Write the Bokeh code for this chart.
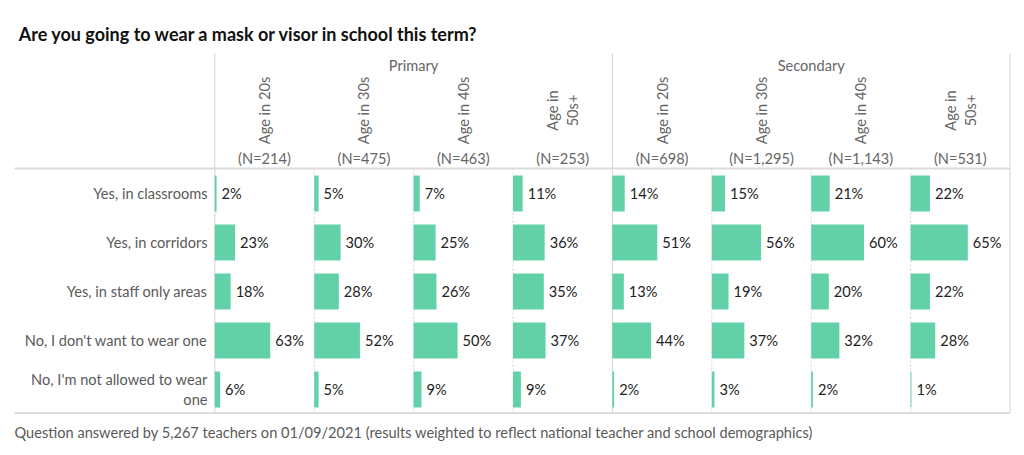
import math
from bokeh.plotting import figure
from bokeh.models import ColumnDataSource, Range1d
from bokeh.core.properties import value
from bokeh.embed import file_html
from bokeh.resources import INLINE

# ---------------- data ----------------
title_text = "Are you going to wear a mask or visor in school this term?"
footer_text = ("Question answered by 5,267  teachers on 01/09/2021 "
               "(results weighted to reflect national teacher and school demographics)")
categories = ["Yes, in classrooms", "Yes, in corridors", "Yes, in staff only areas",
              "No, I don't want to wear one", "No, I'm not allowed to wear\none"]
groups = ["Primary", "Secondary"]
age_labels = ["Age in 20s", "Age in 30s", "Age in 40s", "Age in\n50s+"]
n_labels = ["(N=214)", "(N=475)", "(N=463)", "(N=253)",
            "(N=698)", "(N=1,295)", "(N=1,143)", "(N=531)"]
primary_20s = [2, 23, 18, 63, 6]
primary_30s = [5, 30, 28, 52, 5]
primary_40s = [7, 25, 26, 50, 9]
primary_50s = [11, 36, 35, 37, 9]
secondary_20s = [14, 51, 13, 44, 2]
secondary_30s = [15, 56, 19, 37, 3]
secondary_40s = [21, 60, 20, 32, 2]
secondary_50s = [22, 65, 22, 28, 1]
columns = [primary_20s, primary_30s, primary_40s, primary_50s,
           secondary_20s, secondary_30s, secondary_40s, secondary_50s]

# ---------------- layout ----------------
W, H = 1016, 447
OFF = 0             # page offset of the canvas
K = 0.88            # px per percentage point
PITCH_PX = 99.4     # panel width in px
ORIGIN_PX = 214.3   # page x of first panel start
ROW_PX = 49.0
ROW0_PX = 193.0     # page y of first row centre
PW = PITCH_PX / K   # panel width in data units

def px2x(px):
    return (px - ORIGIN_PX) / K

def px2y(py):
    return (py - ROW0_PX) / ROW_PX

x_start = px2x(OFF)
x_end = px2x(OFF + W)
y_bottom = px2y(OFF + H)
y_top = px2y(OFF)

FONT = value("Lato")
BAR = "#63D1A8"
GRID = "#d4d4d4"
FS = "14.6px"

p = figure(width=W, height=H, x_range=Range1d(x_start, x_end),
           y_range=Range1d(y_bottom, y_top), x_axis_type=None, y_axis_type=None,
           toolbar_location=None, output_backend="svg", min_border=0,
           outline_line_color=None, background_fill_color="white",
           border_fill_color="white")
p.grid.visible = False

# grid lines
top_y = px2y(52.7)
head_y = px2y(168)
bot_y = px2y(412.5)
left_x = px2x(14)
n_cols = len(columns)
bounds = [i * PW for i in range(n_cols + 1)]
solid = [bounds[0], bounds[4], bounds[8]]
dotted = [b for i, b in enumerate(bounds) if i not in (0, 4, 8)]
p.segment(x0=[left_x, left_x], x1=[bounds[-1], bounds[-1]], y0=[head_y, bot_y],
          y1=[head_y, bot_y], line_color="#dcdcdc", line_width=2)
p.segment(x0=solid, x1=solid, y0=[top_y] * 3, y1=[bot_y] * 3,
          line_color=GRID, line_width=1)
p.segment(x0=dotted, x1=dotted, y0=[head_y] * len(dotted), y1=[bot_y] * len(dotted),
          line_color=GRID, line_width=1, line_dash="2 2")

# bars
rows, lefts, rights, texts, tx = [], [], [], [], []
for ci, col in enumerate(columns):
    for ri, v in enumerate(col):
        rows.append(ri)
        lefts.append(ci * PW)
        rights.append(ci * PW + v)
        texts.append(f"{v}%")
        tx.append(ci * PW + v + 5 / K)
src = ColumnDataSource(dict(y=rows, left=lefts, right=rights, text=texts, tx=tx))
p.hbar(y="y", left="left", right="right", height=36 / ROW_PX, source=src,
       fill_color=BAR, line_color=None)
p.text(x="tx", y="y", text="text", source=src, text_font=FONT,
       text_font_size=FS, text_color="#222222", text_baseline="middle",
       text_align="left")

# category labels
p.text(x=[px2x(207)] * len(categories), y=list(range(len(categories))),
       text=categories, text_font=FONT, text_font_size=FS,
       text_color="#5a5a5a", text_align="right", text_baseline="middle",
       text_line_height=1.2)

# headers
centers = [(i + 0.5) * PW for i in range(n_cols)]
p.text(x=centers, y=[px2y(110)] * n_cols, text=age_labels * 2, angle=math.pi / 2,
       text_font=FONT, text_font_size=FS, text_color="#666666",
       text_align="center", text_baseline="middle", text_line_height=1.15)
p.text(x=centers, y=[px2y(158)] * n_cols, text=n_labels, text_font=FONT,
       text_font_size=FS, text_color="#666666", text_align="center",
       text_baseline="middle")
p.text(x=[2 * PW, 6 * PW], y=[px2y(65)] * 2, text=groups, text_font=FONT,
       text_font_size=FS, text_color="#666666", text_align="center",
       text_baseline="middle")

# title and footer
p.text(x=[px2x(18.3)], y=[px2y(33)], text=[title_text], text_font=FONT,
       text_font_size="18px", text_font_style="bold", text_color="#111111",
       text_align="left", text_baseline="middle")
p.text(x=[px2x(14)], y=[px2y(432)], text=[footer_text], text_font=FONT,
       text_font_size=FS, text_color="#5a5a5a", text_align="left",
       text_baseline="middle")

open("out.html", "w").write(file_html(p, INLINE))
